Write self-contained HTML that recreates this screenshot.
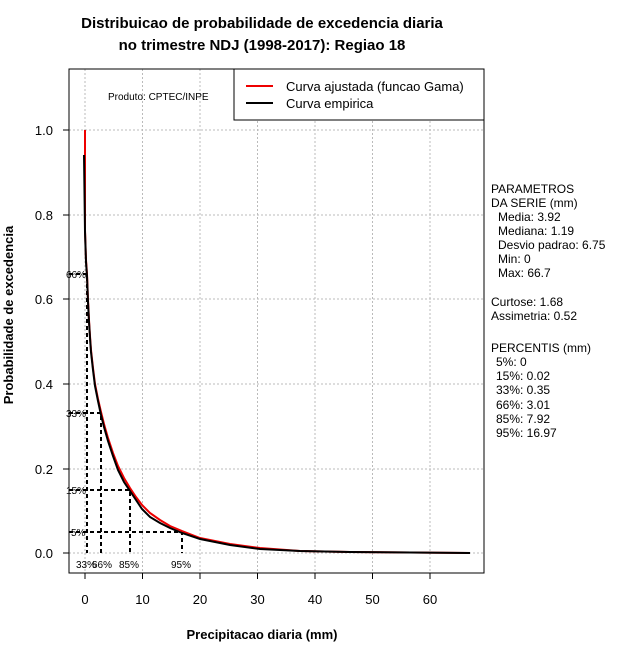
<!DOCTYPE html>
<html><head><meta charset="utf-8"><style>body{margin:0;background:#fff}svg{display:block}text{font-family:"Liberation Sans",sans-serif}</style></head><body>
<svg width="640" height="660" viewBox="0 0 640 660">
<text x="262" y="28" font-size="15" font-weight="bold" text-anchor="middle">Distribuicao de probabilidade de excedencia diaria</text>
<text x="262" y="50" font-size="15" font-weight="bold" text-anchor="middle">no trimestre NDJ (1998-2017): Regiao 18</text>
<g stroke="#bbb" stroke-dasharray="2,2" stroke-width="1">
<line x1="85" y1="69" x2="85" y2="573"/><line x1="142.5" y1="69" x2="142.5" y2="573"/><line x1="200" y1="69" x2="200" y2="573"/><line x1="257.5" y1="69" x2="257.5" y2="573"/><line x1="315" y1="69" x2="315" y2="573"/><line x1="372.5" y1="69" x2="372.5" y2="573"/><line x1="430" y1="69" x2="430" y2="573"/>
<line x1="69" y1="130" x2="484" y2="130"/><line x1="69" y1="215" x2="484" y2="215"/><line x1="69" y1="299" x2="484" y2="299"/><line x1="69" y1="384" x2="484" y2="384"/><line x1="69" y1="469" x2="484" y2="469"/><line x1="69" y1="553" x2="484" y2="553"/>
</g>
<rect x="69" y="69" width="415" height="504" fill="none" stroke="#000"/>
<g stroke="#000">
<line x1="63" y1="130" x2="69" y2="130"/><line x1="63" y1="215" x2="69" y2="215"/><line x1="63" y1="299" x2="69" y2="299"/><line x1="63" y1="384" x2="69" y2="384"/><line x1="63" y1="469" x2="69" y2="469"/><line x1="63" y1="553" x2="69" y2="553"/>
<line x1="85" y1="573" x2="85" y2="579"/><line x1="142.5" y1="573" x2="142.5" y2="579"/><line x1="200" y1="573" x2="200" y2="579"/><line x1="257.5" y1="573" x2="257.5" y2="579"/><line x1="315" y1="573" x2="315" y2="579"/><line x1="372.5" y1="573" x2="372.5" y2="579"/><line x1="430" y1="573" x2="430" y2="579"/>
</g>
<g font-size="13" text-anchor="end"><text x="53" y="135">1.0</text><text x="53" y="220">0.8</text><text x="53" y="304">0.6</text><text x="53" y="389">0.4</text><text x="53" y="474">0.2</text><text x="53" y="558">0.0</text></g>
<g font-size="13" text-anchor="middle"><text x="85" y="604">0</text><text x="142.5" y="604">10</text><text x="200" y="604">20</text><text x="257.5" y="604">30</text><text x="315" y="604">40</text><text x="372.5" y="604">50</text><text x="430" y="604">60</text></g>
<text x="262" y="639" font-size="13" font-weight="bold" text-anchor="middle">Precipitacao diaria (mm)</text>
<text transform="translate(13,315) rotate(-90)" font-size="13" font-weight="bold" text-anchor="middle">Probabilidade de excedencia</text>
<g stroke="#000" stroke-width="2" stroke-dasharray="4,3" fill="none">
<polyline points="69,274 87,274 87,553"/>
<polyline points="69,413 101,413 101,553"/>
<polyline points="69,490 130,490 130,553"/>
<polyline points="69,532 182,532 182,553"/>
</g>
<polyline fill="none" stroke="#e00" stroke-width="2" points="85,130 85,230 86,260 87,274 88,300 89,320 90,336 91,350 93,368 95,384 98,399 101,412 104,424 108,438 113,453 118,466 124,478 130,488 136,497 142,505 150,513 160,520 170,526 182,531 200,538 215,541 230,544 260,548 300,551 350,552 470,553"/>
<polyline fill="none" stroke="#000" stroke-width="2" points="84,155 85,232 86,262 87,276 88,302 89,322 90,338 91,352 93,370 95,386 98,401 101,415 104,427 108,441 113,456 118,470 124,482 130,491 136,500 142,509 150,517 160,523 170,528 182,533 200,539 215,542 230,545 260,549 300,551 350,552 470,553"/>
<g font-size="10"><text x="66" y="278">66%</text><text x="66" y="417">33%</text><text x="66" y="494">15%</text><text x="71" y="536">5%</text><text x="76" y="568">33%</text><text x="92" y="568">66%</text><text x="119" y="568">85%</text><text x="171" y="568">95%</text></g>
<text x="108" y="100" font-size="10">Produto: CPTEC/INPE</text>
<rect x="234" y="69" width="250" height="51" fill="#fff" stroke="#000"/>
<line x1="246" y1="86" x2="273" y2="86" stroke="#e00" stroke-width="2"/>
<line x1="246" y1="103" x2="273" y2="103" stroke="#000" stroke-width="2"/>
<text x="286" y="91" font-size="13">Curva ajustada (funcao Gama)</text>
<text x="286" y="108" font-size="13">Curva empirica</text>
<g font-size="12"><text x="491" y="193">PARAMETROS</text><text x="491" y="207">DA SERIE (mm)</text><text x="498" y="221">Media: 3.92</text><text x="498" y="235">Mediana: 1.19</text><text x="498" y="249">Desvio padrao: 6.75</text><text x="498" y="263">Min: 0</text><text x="498" y="277">Max: 66.7</text>
<text x="491" y="306">Curtose: 1.68</text><text x="491" y="320">Assimetria: 0.52</text>
<text x="491" y="352">PERCENTIS (mm)</text><text x="496" y="366">5%: 0</text><text x="496" y="380">15%: 0.02</text><text x="496" y="394">33%: 0.35</text><text x="496" y="409">66%: 3.01</text><text x="496" y="423">85%: 7.92</text><text x="496" y="437">95%: 16.97</text></g>
</svg>
</body></html>
